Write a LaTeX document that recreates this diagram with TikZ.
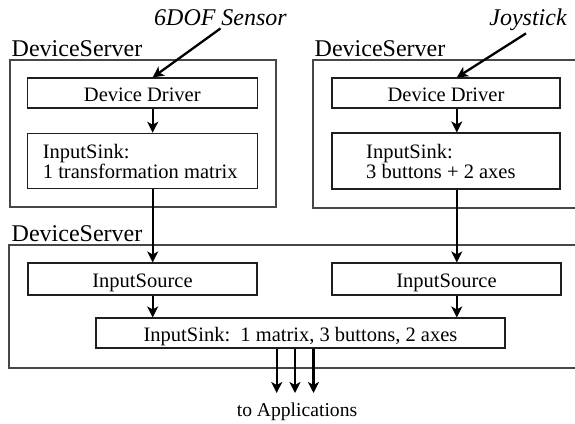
\documentclass[tikz,border=0pt]{standalone}
\usepackage{fontspec}
\setmainfont{Liberation Serif}
\usetikzlibrary{arrows.meta}
\begin{document}
\begin{tikzpicture}[x=1pt,y=-1pt,
  outerbox/.style={draw=black!72,line width=1.4pt},
  innerbox/.style={draw=black!88,line width=1.1pt,fill=white,inner sep=0pt},
  boxtext/.style={font=\fontsize{20.5}{20}\selectfont},
  dslabel/.style={font=\fontsize{24}{24}\selectfont,anchor=base west,inner sep=0pt},
  devlabel/.style={font=\fontsize{24}{24}\selectfont\itshape,anchor=base,inner sep=0pt},
  flow/.style={line width=2.3pt,-{Stealth[length=11pt,width=11pt,inset=3pt]}}]
\useasboundingbox (0,0) rectangle (575,423);
\clip (0,0) rectangle (575,423);
% outer DeviceServer boxes
\draw[outerbox] (10,60) rectangle (276,207);
\draw[outerbox] (313,60) rectangle (590,208);
\draw[outerbox] (9,245) rectangle (590,368);
\node[dslabel] (ds1) at (11.5,56.7) {DeviceServer};
\node[dslabel] (ds2) at (314.5,56.7) {DeviceServer};
\node[dslabel] (ds3) at (11.5,241.7) {DeviceServer};
% column coordinates
\coordinate (c1) at (152.7,0);
\coordinate (c2) at (456.8,0);
% device labels
\node[devlabel] (sensor) at (220.5,25) {6DOF Sensor};
\node[devlabel] (joy) at (528,25) {Joystick};
% inner boxes
\node[innerbox,minimum width=229.5pt,minimum height=30pt] (dd1) at (142.3,93) {};
\node[innerbox,minimum width=228pt,minimum height=30pt] (dd2) at (446,93) {};
\node[innerbox,minimum width=229.5pt,minimum height=55pt] (is1) at (142.3,160.8) {};
\node[innerbox,minimum width=228pt,minimum height=56pt] (is2) at (446,161) {};
\node[innerbox,minimum width=229pt,minimum height=32pt] (src1) at (142.5,279) {};
\node[innerbox,minimum width=229pt,minimum height=32pt] (src2) at (446.5,279) {};
\node[innerbox,minimum width=409pt,minimum height=30pt] (sink) at (300.5,333) {};
% box texts
\node[boxtext,anchor=base,inner sep=0pt] (dd1t) at (142.3,101.7) {Device Driver};
\node[boxtext,anchor=base,inner sep=0pt] (dd2t) at (446,101.7) {Device Driver};
\node[boxtext,anchor=base west,inner sep=0pt,align=left] (is1t) at (42.7,178) {InputSink:\\1 transformation matrix};
\node[boxtext,anchor=base west,inner sep=0pt,align=left] (is2t) at (366,178) {InputSink:\\3 buttons + 2 axes};
\node[boxtext,anchor=base,inner sep=0pt] (src1t) at (142.5,287.3) {InputSource};
\node[boxtext,anchor=base,inner sep=0pt] (src2t) at (446.5,287.3) {InputSource};
\node[boxtext,anchor=base,inner sep=0pt] (sinkt) at (300.5,341.7) {InputSink:\ \ 1 matrix, 3 buttons, 2 axes};
\node[font=\fontsize{19.6}{20}\selectfont,anchor=base,inner sep=0pt] (apps) at (297,416) {to Applications};
% connectors
\draw[flow] (sensor.south) ++(0,3) coordinate (s0) -- (dd1.north -| c1);
\draw[flow] (joy.south) ++(-2,3) coordinate (j0) -- (dd2.north -| c2);
\draw[flow] (dd1.south -| c1) -- (is1.north -| c1);
\draw[flow] (dd2.south -| c2) -- (is2.north -| c2);
\draw[flow] (is1.south -| c1) -- (src1.north -| c1);
\draw[flow] (is2.south -| c2) -- (src2.north -| c2);
\draw[flow] (src1.south -| c1) -- (sink.north -| c1);
\draw[flow] (src2.south -| c2) -- (sink.north -| c2);
\coordinate (o1) at (276.7,393);
\coordinate (o2) at (295,393);
\coordinate (o3) at (313.5,393);
\draw[flow] (sink.south -| o1) -- (o1);
\draw[flow] (sink.south -| o2) -- (o2);
\draw[flow] (sink.south -| o3) -- (o3);
\end{tikzpicture}
\end{document}
